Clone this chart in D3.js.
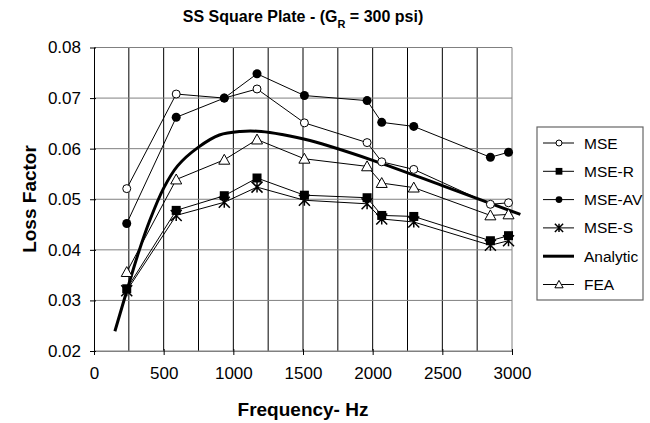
<!DOCTYPE html>
<html>
<head>
<meta charset="utf-8">
<script src="https://cdn.jsdelivr.net/npm/d3@7"></script>
<style>
	body { margin: 0; background: #fff; }
	text { font-family: "Liberation Sans", Arial, sans-serif; fill: #000; }
</style>
</head>
<body>
<svg id="plot" width="650" height="423"></svg>
<script>

const FREQS = [235, 590, 935, 1170, 1510, 1960, 2065, 2295, 2845, 2975];
const MSE = [0.0521, 0.0708, 0.0700, 0.0718, 0.0651, 0.0612, 0.0574, 0.0559, 0.0490, 0.0493];
const MSE_R = [0.0323, 0.0478, 0.0507, 0.0542, 0.0508, 0.0503, 0.0468, 0.0466, 0.0418, 0.0428];
const MSE_AV = [0.0452, 0.0662, 0.0700, 0.0748, 0.0705, 0.0695, 0.0652, 0.0644, 0.0583, 0.0593];
const MSE_S = [0.0319, 0.0468, 0.0494, 0.0524, 0.0498, 0.0491, 0.0461, 0.0455, 0.0409, 0.0418];
const FEA = [0.0356, 0.0539, 0.0578, 0.0618, 0.0580, 0.0565, 0.0532, 0.0523, 0.0468, 0.0470];
const ANALYTIC_F = [150, 240, 320, 400, 500, 600, 750, 900, 1050, 1200, 1350, 1550, 2000, 2500, 3060];
const ANALYTIC_V = [0.0239, 0.0323, 0.0395, 0.0458, 0.0522, 0.0566, 0.0603, 0.0627, 0.0634, 0.0634, 0.0628, 0.0616, 0.0577, 0.0527, 0.0470];
const X_TICKS = [0, 500, 1000, 1500, 2000, 2500, 3000];
const Y_TICKS = [0.02, 0.03, 0.04, 0.05, 0.06, 0.07, 0.08];
const SERIES = ['MSE', 'MSE-R', 'MSE-AV', 'MSE-S', 'Analytic', 'FEA'];

const svg = d3.select('#plot');
const x = d3.scaleLinear().domain([0, 3000]).range([94, 512]);
const y = d3.scaleLinear().domain([0.02, 0.08]).range([351, 47.5]);

// gridlines: verticals every 250 (black), horizontals gray
svg.append('g')
	.selectAll('line')
	.data(d3.range(250, 3001, 250))
	.enter().append('line')
		.attr('x1', d => x(d)).attr('x2', d => x(d))
		.attr('y1', y(0.08)).attr('y2', y(0.02))
		.attr('stroke', d => d === 3000 ? '#808080' : '#000')
		.attr('stroke-width', 1);
svg.append('g')
	.selectAll('line')
	.data(Y_TICKS)
	.enter().append('line')
		.attr('x1', x(0)).attr('x2', x(3000))
		.attr('y1', d => y(d)).attr('y2', d => y(d))
		.attr('stroke', '#808080')
		.attr('stroke-width', 1);

// axes
const xAxis = svg.append('g')
	.attr('transform', `translate(0, ${y(0.02)})`)
	.call(d3.axisBottom(x).tickValues(X_TICKS).tickFormat(d3.format('d')).tickSizeInner(4).tickSizeOuter(0).tickPadding(12));
xAxis.select('.domain').attr('stroke', '#808080');
xAxis.selectAll('.tick line').attr('y1', -2).attr('y2', 4).attr('stroke', '#000');
const yAxis = svg.append('g')
	.attr('transform', `translate(${x(0)}, 0)`)
	.call(d3.axisLeft(y).tickValues(Y_TICKS).tickFormat(d3.format('.2f')).tickSizeInner(4).tickSizeOuter(0).tickPadding(9));
yAxis.selectAll('.tick line').attr('x1', -4).attr('x2', 2).attr('stroke', '#000');
yAxis.select('.domain').attr('stroke', '#000');
svg.selectAll('.tick text').style('font-size', '17px').style('font-family', '"Liberation Sans", Arial, sans-serif');

// marker drawing
function marker(g, type, cx, cy, s) {
	if (type === 'circle') {
		g.append('circle').attr('cx', cx).attr('cy', cy).attr('r', 4 * s)
			.attr('fill', '#fff').attr('stroke', '#000');
	} else if (type === 'dot') {
		g.append('circle').attr('cx', cx).attr('cy', cy).attr('r', 4.5 * s)
			.attr('fill', '#000');
	} else if (type === 'square') {
		g.append('rect').attr('x', cx - 4.5 * s).attr('y', cy - 4.5 * s)
			.attr('width', 9 * s).attr('height', 9 * s).attr('fill', '#000');
	} else if (type === 'star') {
		const r = 5.5 * s;
		g.append('path')
			.attr('d', `M${cx - r},${cy - r}L${cx + r},${cy + r}M${cx - r},${cy + r}L${cx + r},${cy - r}M${cx},${cy - r}L${cx},${cy + r}`)
			.attr('stroke', '#000').attr('stroke-width', 1.5);
	} else if (type === 'triangle') {
		const r = 5.5 * s;
		g.append('path')
			.attr('d', `M${cx},${cy - r}L${cx + r},${cy + r * 0.8}L${cx - r},${cy + r * 0.8}Z`)
			.attr('fill', '#fff').attr('stroke', '#000');
	}
}

const lineGen = d3.line().x(d => x(d[0])).y(d => y(d[1]));
const pointSeries = [
	{ name: 'MSE', values: MSE, type: 'circle' },
	{ name: 'MSE-R', values: MSE_R, type: 'square' },
	{ name: 'MSE-AV', values: MSE_AV, type: 'dot' },
	{ name: 'MSE-S', values: MSE_S, type: 'star' },
	{ name: 'FEA', values: FEA, type: 'triangle' },
];

// analytic curve
svg.append('path')
	.datum(ANALYTIC_F.map((f, i) => [f, ANALYTIC_V[i]]))
	.attr('d', lineGen.curve(d3.curveCatmullRom))
	.attr('fill', 'none').attr('stroke', '#000').attr('stroke-width', 3);
lineGen.curve(d3.curveLinear);

pointSeries.forEach(s => {
	const pts = FREQS.map((f, i) => [f, s.values[i]]);
	svg.append('path').datum(pts).attr('d', lineGen)
		.attr('fill', 'none').attr('stroke', '#000').attr('stroke-width', 1);
});
pointSeries.forEach(s => {
	const g = svg.append('g');
	FREQS.forEach((f, i) => marker(g, s.type, x(f), y(s.values[i]), 1));
});

// titles
svg.append('text').attr('x', 303).attr('y', 22).attr('text-anchor', 'middle')
	.style('font-size', '16px').style('font-weight', 'bold')
	.html('SS Square Plate - (G<tspan baseline-shift="sub" font-size="11px">R</tspan> = 300 psi)');
svg.append('text').attr('x', 303).attr('y', 416).attr('text-anchor', 'middle')
	.style('font-size', '19px').style('font-weight', 'bold').text('Frequency- Hz');
svg.append('text').attr('transform', 'translate(36, 199) rotate(-90)').attr('text-anchor', 'middle')
	.style('font-size', '19px').style('font-weight', 'bold').text('Loss Factor');

// legend
const legend = svg.append('g');
legend.append('rect').attr('x', 537).attr('y', 127).attr('width', 106).attr('height', 173)
	.attr('fill', '#fff').attr('stroke', '#666').attr('stroke-width', 1.2);
const legendTypes = { 'MSE': 'circle', 'MSE-R': 'square', 'MSE-AV': 'dot', 'MSE-S': 'star', 'Analytic': null, 'FEA': 'triangle' };
SERIES.forEach((name, i) => {
	const cy = 143 + i * 28.3;
	legend.append('line').attr('x1', 543).attr('x2', 574).attr('y1', cy).attr('y2', cy)
		.attr('stroke', '#000').attr('stroke-width', name === 'Analytic' ? 3 : 1);
	if (legendTypes[name]) marker(legend, legendTypes[name], 559, cy, 0.75);
	legend.append('text').attr('x', 584).attr('y', cy + 5.5)
		.style('font-size', '15.5px').text(name);
});

</script>
</body>
</html>
